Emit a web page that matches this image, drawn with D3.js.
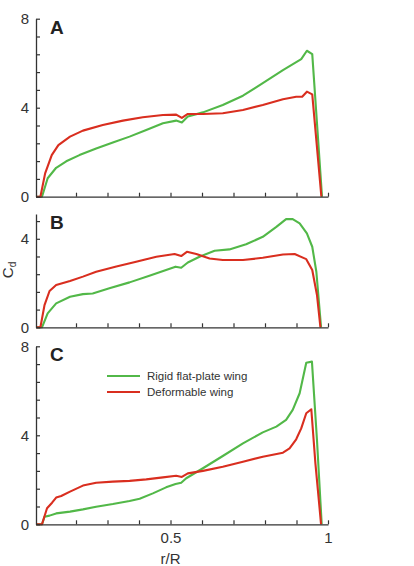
<!DOCTYPE html>
<html>
<head>
<meta charset="utf-8">
<script src="https://cdn.jsdelivr.net/npm/d3@7"></script>
<style>
  body { margin: 0; background: #fff; }
  svg { display: block; font-family: "Liberation Sans", Arial, sans-serif; }
</style>
</head>
<body>
<svg id="chart" width="414" height="566"></svg>
<script>
// r/R positions and Cd values
var seriesNames = ["Rigid flat-plate wing", "Deformable wing"];
var panelLabels = ["A", "B", "C"];
var xTickValues = [0.2, 0.3, 0.4, 0.5, 0.6, 0.7, 0.8, 0.9, 1.0];
var xTickLabels = ["", "", "", "0.5", "", "", "", "", "1"];

var rigidA_r  = [0.073, 0.092, 0.110, 0.137, 0.169, 0.211, 0.264, 0.317, 0.370, 0.423, 0.476, 0.518, 0.536, 0.555, 0.603, 0.666, 0.730, 0.793, 0.857, 0.915, 0.933, 0.950, 0.981];
var rigidA_cd = [0, 0, 0.83, 1.30, 1.59, 1.87, 2.17, 2.44, 2.70, 3.00, 3.30, 3.42, 3.34, 3.60, 3.79, 4.12, 4.54, 5.10, 5.69, 6.18, 6.56, 6.41, 0];
var deformA_r  = [0.073, 0.087, 0.102, 0.123, 0.144, 0.181, 0.222, 0.285, 0.349, 0.412, 0.476, 0.518, 0.536, 0.555, 0.603, 0.666, 0.730, 0.793, 0.857, 0.899, 0.918, 0.933, 0.950, 0.979];
var deformA_cd = [0, 0, 1.05, 1.87, 2.32, 2.70, 2.97, 3.22, 3.42, 3.57, 3.67, 3.69, 3.54, 3.72, 3.72, 3.75, 3.90, 4.12, 4.38, 4.49, 4.49, 4.72, 4.60, 0];

var rigidB_r  = [0.073, 0.092, 0.110, 0.137, 0.181, 0.222, 0.253, 0.306, 0.370, 0.433, 0.486, 0.516, 0.534, 0.555, 0.592, 0.640, 0.687, 0.740, 0.793, 0.836, 0.867, 0.888, 0.910, 0.933, 0.950, 0.963, 0.978];
var rigidB_cd = [0, 0, 0.63, 1.08, 1.38, 1.50, 1.53, 1.76, 2.03, 2.33, 2.59, 2.74, 2.69, 2.93, 3.19, 3.46, 3.52, 3.75, 4.09, 4.54, 4.89, 4.89, 4.70, 4.24, 3.64, 2.51, 0];
var deformB_r  = [0.073, 0.087, 0.100, 0.116, 0.137, 0.181, 0.222, 0.264, 0.328, 0.391, 0.455, 0.513, 0.534, 0.552, 0.582, 0.624, 0.666, 0.730, 0.793, 0.857, 0.894, 0.931, 0.950, 0.965, 0.976];
var deformB_cd = [0, 0, 1.00, 1.64, 1.91, 2.09, 2.29, 2.51, 2.75, 2.96, 3.19, 3.31, 3.22, 3.41, 3.31, 3.11, 3.04, 3.04, 3.14, 3.29, 3.31, 3.08, 2.59, 1.46, 0];

var rigidC_r  = [0.073, 0.092, 0.100, 0.116, 0.137, 0.181, 0.222, 0.264, 0.317, 0.370, 0.402, 0.444, 0.486, 0.516, 0.534, 0.550, 0.603, 0.666, 0.730, 0.793, 0.836, 0.867, 0.888, 0.910, 0.931, 0.949, 0.965, 0.980];
var rigidC_cd = [0, 0, 0.34, 0.39, 0.49, 0.57, 0.67, 0.79, 0.91, 1.05, 1.15, 1.39, 1.66, 1.81, 1.87, 2.07, 2.52, 3.07, 3.64, 4.13, 4.39, 4.69, 5.14, 5.89, 7.26, 7.31, 3.79, 0];
var deformC_r  = [0.073, 0.092, 0.108, 0.124, 0.137, 0.153, 0.181, 0.222, 0.264, 0.317, 0.370, 0.423, 0.476, 0.518, 0.536, 0.555, 0.603, 0.666, 0.730, 0.793, 0.857, 0.878, 0.899, 0.915, 0.931, 0.947, 0.960, 0.978];
var deformC_cd = [0, 0, 0.72, 0.97, 1.20, 1.27, 1.47, 1.74, 1.87, 1.92, 1.95, 2.02, 2.11, 2.18, 2.13, 2.29, 2.40, 2.59, 2.81, 3.04, 3.22, 3.41, 3.82, 4.31, 4.99, 5.17, 2.74, 0];

var yMax = [8, 5.12, 8];

var green = "#52b848", red = "#d92e1f", axisColor = "#333";

var panels = [
  {label: panelLabels[0], top: 18.7, bottom: 196.7, ymax: yMax[0], rigid: [rigidA_r, rigidA_cd], deform: [deformA_r, deformA_cd]},
  {label: panelLabels[1], top: 214, bottom: 327.3, ymax: yMax[1], rigid: [rigidB_r, rigidB_cd], deform: [deformB_r, deformB_cd]},
  {label: panelLabels[2], top: 346.3, bottom: 524.3, ymax: yMax[2], rigid: [rigidC_r, rigidC_cd], deform: [deformC_r, deformC_cd]}
];

var svg = d3.select("#chart");
var x = d3.scaleLinear().domain([0.073, 1]).range([36, 328]);

function zip(a, b){ return a.map(function(v, i){ return [v, b[i]]; }); }

panels.forEach(function(p, pi){
  var y = d3.scaleLinear().domain([0, p.ymax]).range([p.bottom, p.top]);
  var yTicks = d3.range(0, 11).map(function(i){ return +(i*0.8).toFixed(2); }).filter(function(v){ return v <= p.ymax + 1e-6; });

  var line = d3.line().x(function(d){ return x(d[0]); }).y(function(d){ return y(d[1]); });

  // curves
  svg.append("path").datum(zip(p.rigid[0], p.rigid[1]))
    .attr("d", line).attr("fill", "none").attr("stroke", green)
    .attr("stroke-width", 2.1).attr("stroke-linejoin", "round");
  svg.append("path").datum(zip(p.deform[0], p.deform[1]))
    .attr("d", line).attr("fill", "none").attr("stroke", red)
    .attr("stroke-width", 2.1).attr("stroke-linejoin", "round");

  // y axis, ticks pointing inward
  var yAxis = svg.append("g").attr("transform", "translate(" + x.range()[0] + ",0)")
    .call(d3.axisLeft(y).tickValues(yTicks).tickSizeInner(-4).tickSizeOuter(0).tickPadding(7)
      .tickFormat(function(v){ return (Math.abs(v % 4) < 1e-6 || Math.abs(v % 4 - 4) < 1e-6) ? d3.format("d")(v) : ""; }));
  yAxis.select(".domain").attr("stroke", axisColor).attr("stroke-width", 1.3);
  yAxis.selectAll(".tick line").attr("stroke", axisColor).attr("stroke-width", 1.2);
  yAxis.selectAll(".tick text").attr("fill", "#333").style("font-size", "15px");

  // x axis
  var xAxis = svg.append("g").attr("transform", "translate(0," + p.bottom + ")")
    .call(d3.axisBottom(x).tickValues(xTickValues).tickSizeInner(-4).tickSizeOuter(0).tickPadding(8)
      .tickFormat(function(v, i){ return pi === 2 ? xTickLabels[i] : ""; }));
  xAxis.select(".domain").attr("stroke", axisColor).attr("stroke-width", 1.3);
  xAxis.selectAll(".tick line").attr("stroke", axisColor).attr("stroke-width", 1.2);
  xAxis.selectAll(".tick text").attr("fill", "#333").style("font-size", "15px");

  // panel letter
  svg.append("text").attr("x", 50).attr("y", p.top + 15)
    .attr("font-weight", "bold").attr("font-size", "19px").attr("fill", "#222")
    .text(p.label);

  if (pi === 2) {
    var legend = svg.append("g");
    [green, red].forEach(function(c, i){
      var ly = 376 + i*16;
      legend.append("line").attr("x1", 107).attr("x2", 140).attr("y1", ly).attr("y2", ly)
        .attr("stroke", c).attr("stroke-width", 2);
      legend.append("text").attr("x", 147).attr("y", ly + 4)
        .attr("font-size", "11.5px").attr("fill", "#333").text(seriesNames[i]);
    });
  }
});

// axis titles
svg.append("text").attr("x", 170.5).attr("y", 564).attr("text-anchor", "middle")
  .attr("font-size", "15px").attr("fill", "#333").text("r/R");

var yl = svg.append("text").attr("transform", "translate(13,270) rotate(-90)")
  .attr("text-anchor", "middle").attr("font-size", "15px").attr("fill", "#333");
yl.append("tspan").text("C");
yl.append("tspan").attr("dy", 3).attr("font-size", "10px").text("d");
</script>
</body>
</html>
